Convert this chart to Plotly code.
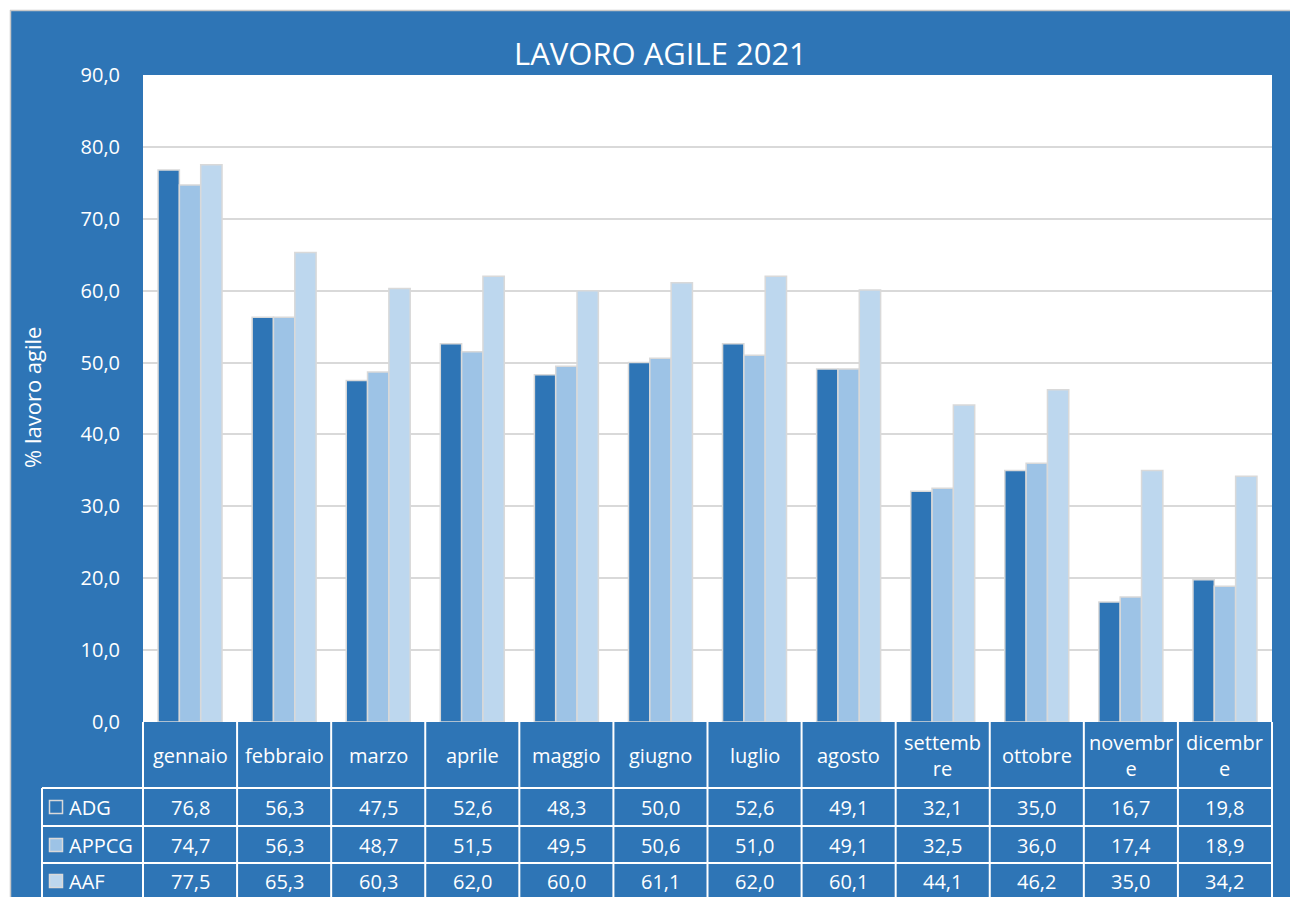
import plotly.graph_objects as go

months = ["gennaio", "febbraio", "marzo", "aprile", "maggio", "giugno",
          "luglio", "agosto", "settembre", "ottobre", "novembre", "dicembre"]
header_labels = ["gennaio", "febbraio", "marzo", "aprile", "maggio", "giugno",
                 "luglio", "agosto", "settemb<br>re", "ottobre", "novembr<br>e", "dicembr<br>e"]
series_names = ["ADG", "APPCG", "AAF"]
adg = [76.8, 56.3, 47.5, 52.6, 48.3, 50.0, 52.6, 49.1, 32.1, 35.0, 16.7, 19.8]
appcg = [74.7, 56.3, 48.7, 51.5, 49.5, 50.6, 51.0, 49.1, 32.5, 36.0, 17.4, 18.9]
aaf = [77.5, 65.3, 60.3, 62.0, 60.0, 61.1, 62.0, 60.1, 44.1, 46.2, 35.0, 34.2]
y_ticks = [0, 10, 20, 30, 40, 50, 60, 70, 80, 90]

BG = "#2E75B6"
colors = ["#2E75B6", "#9DC3E6", "#BDD7EE"]
OUT = "#D9D9D9"
FONT = "Open Sans"

# page body has an 8px margin: figure is drawn 8px right/down in the window
OFF = 8
VW, VH = 1298, 897
W, H = VW - OFF, VH - OFF
# plot area in window pixels
L, R, T, B = 143, 1272, 75, 722
pw, ph = R - L, B - T


def px(x):
    return (x - L) / pw


def py(y):
    return (B - y) / ph


fig = go.Figure()
for name, vals, c in zip(series_names, [adg, appcg, aaf], colors):
    fig.add_trace(go.Bar(x=months, y=vals, name=name,
                         marker=dict(color=c, line=dict(color=OUT, width=1.5)),
                         showlegend=False))

shapes = []
ann = []
# white strip top and left (outside chart frame) + thin gray frame
shapes.append(dict(type="rect", xref="paper", yref="paper", x0=px(0), x1=px(VW), y0=py(10), y1=py(0),
                   fillcolor="white", line=dict(width=0), layer="above"))
shapes.append(dict(type="rect", xref="paper", yref="paper", x0=px(0), x1=px(10), y0=py(VH), y1=py(0),
                   fillcolor="white", line=dict(width=0), layer="above"))
shapes.append(dict(type="line", xref="paper", yref="paper", x0=px(10), x1=px(VW), y0=py(10.5), y1=py(10.5),
                   line=dict(color="#C8C8C8", width=1.5), layer="above"))
shapes.append(dict(type="line", xref="paper", yref="paper", x0=px(10.5), x1=px(10.5), y0=py(VH), y1=py(10),
                   line=dict(color="#C8C8C8", width=1.5), layer="above"))

# data table grid
cw = pw / len(months)
for k in range(len(months) + 1):
    xx = L + k * cw
    shapes.append(dict(type="line", xref="paper", yref="paper", x0=px(xx), x1=px(xx), y0=py(VH + 5), y1=py(B),
                       line=dict(color="white", width=2), layer="above"))
shapes.append(dict(type="line", xref="paper", yref="paper", x0=px(42), x1=px(42), y0=py(VH + 5), y1=py(788),
                   line=dict(color="white", width=2), layer="above"))
for yy in [788, 826, 863]:
    shapes.append(dict(type="line", xref="paper", yref="paper", x0=px(42), x1=px(R), y0=py(yy), y1=py(yy),
                       line=dict(color="white", width=2), layer="above"))

TS = 20
row_centers = [807, 845, 881]
for i, m in enumerate(months):
    ann.append(dict(x=m, xref="x", y=py(755), yref="paper", text=header_labels[i], showarrow=False,
                    font=dict(color="white", size=TS, family=FONT), xanchor="center", yanchor="middle"))
for r, vals in enumerate([adg, appcg, aaf]):
    for i, m in enumerate(months):
        ann.append(dict(x=m, xref="x", y=py(row_centers[r]), yref="paper",
                        text=f"{vals[i]:.1f}".replace(".", ","),
                        showarrow=False, font=dict(color="white", size=TS, family=FONT),
                        xanchor="center", yanchor="middle"))
    # legend key
    shapes.append(dict(type="rect", xref="paper", yref="paper", x0=px(49.5), x1=px(62.5),
                       y0=py(row_centers[r] + 6.5), y1=py(row_centers[r] - 6.5),
                       fillcolor=colors[r], line=dict(color=OUT, width=1.5), layer="above"))
    ann.append(dict(x=px(67), xref="paper", y=py(row_centers[r]), yref="paper", text=series_names[r],
                    showarrow=False, font=dict(color="white", size=TS, family=FONT),
                    xanchor="left", yanchor="middle"))

# title and axis title
ann.append(dict(x=px(660), xref="paper", y=py(53), yref="paper", text="LAVORO AGILE 2021", showarrow=False,
                font=dict(color="white", size=31, family=FONT), xanchor="center", yanchor="middle"))
ann.append(dict(x=px(32), xref="paper", y=py(398), yref="paper", text="% lavoro agile", showarrow=False,
                textangle=-90, font=dict(color="white", size=22, family=FONT),
                xanchor="center", yanchor="middle"))

fig.update_layout(
    width=W, height=H,
    margin=dict(l=L - OFF, r=VW - R, t=T - OFF, b=VH - B, pad=0),
    paper_bgcolor=BG, plot_bgcolor="white",
    barmode="group", bargap=0.32, bargroupgap=0,
    separators=",.",
    shapes=shapes, annotations=ann,
    font=dict(family=FONT, color="white"),
    xaxis=dict(showticklabels=False, showgrid=False, zeroline=False, ticks="", showline=False),
    yaxis=dict(range=[0, 90], tickvals=y_ticks, tickformat=".1f", showgrid=True, gridcolor=OUT, gridwidth=1.5,
               zeroline=False, showline=False, ticks="", ticklabelstandoff=22,
               tickfont=dict(color="white", size=20, family=FONT)),
)

fig.write_html("out.html")
